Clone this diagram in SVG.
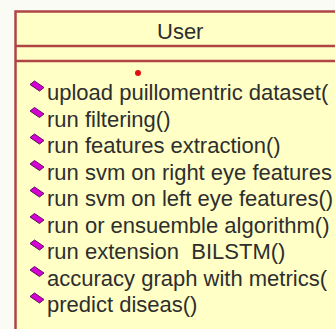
<svg xmlns="http://www.w3.org/2000/svg" width="335" height="329" viewBox="0 0 335 329">
<style>
.t{font-family:"Liberation Sans",Arial,sans-serif;font-size:22px;fill:#2e2e2e;white-space:pre}
.ln{stroke:#b04545;stroke-width:2.5;fill:none}
.ic{fill:#d400d4;stroke:#5a105a;stroke-width:1}
</style>
<defs>
<polygon id="icon" class="ic" points="0,3.5 4.5,0 14,6.5 9.5,10"/>
</defs>
<rect width="335" height="329" fill="#fbfbf6"/>
<g id="User">
<rect x="15.5" y="11.5" width="330" height="330" fill="#ffffc6" stroke="#b04545" stroke-width="2.5"/>
<line class="ln" x1="15" y1="46" x2="335" y2="46"/>
<line class="ln" x1="15" y1="61" x2="335" y2="61"/>
<text class="t" x="157" y="39">User</text>
<circle cx="138" cy="73" r="3" fill="#e01010"/>
<use href="#icon" x="30" y="81"/>
<text class="t" x="47" y="100">upload puillomentric dataset(</text>
<use href="#icon" x="30" y="107.5"/>
<text class="t" x="47" y="126.5">run filtering()</text>
<use href="#icon" x="30" y="134"/>
<text class="t" x="47" y="153">run features extraction()</text>
<use href="#icon" x="30" y="160.5"/>
<text class="t" x="47" y="179.5">run svm on right eye features</text>
<use href="#icon" x="30" y="187"/>
<text class="t" x="47" y="206">run svm on left eye features()</text>
<use href="#icon" x="30" y="213.5"/>
<text class="t" x="47" y="232.5">run or ensuemble algorithm()</text>
<use href="#icon" x="30" y="240"/>
<text class="t" x="47" y="259" xml:space="preserve">run extension  BILSTM()</text>
<use href="#icon" x="30" y="266.5"/>
<text class="t" x="47" y="285.5">accuracy graph with metrics(</text>
<use href="#icon" x="30" y="293"/>
<text class="t" x="47" y="312">predict diseas()</text>
</g>
</svg>
